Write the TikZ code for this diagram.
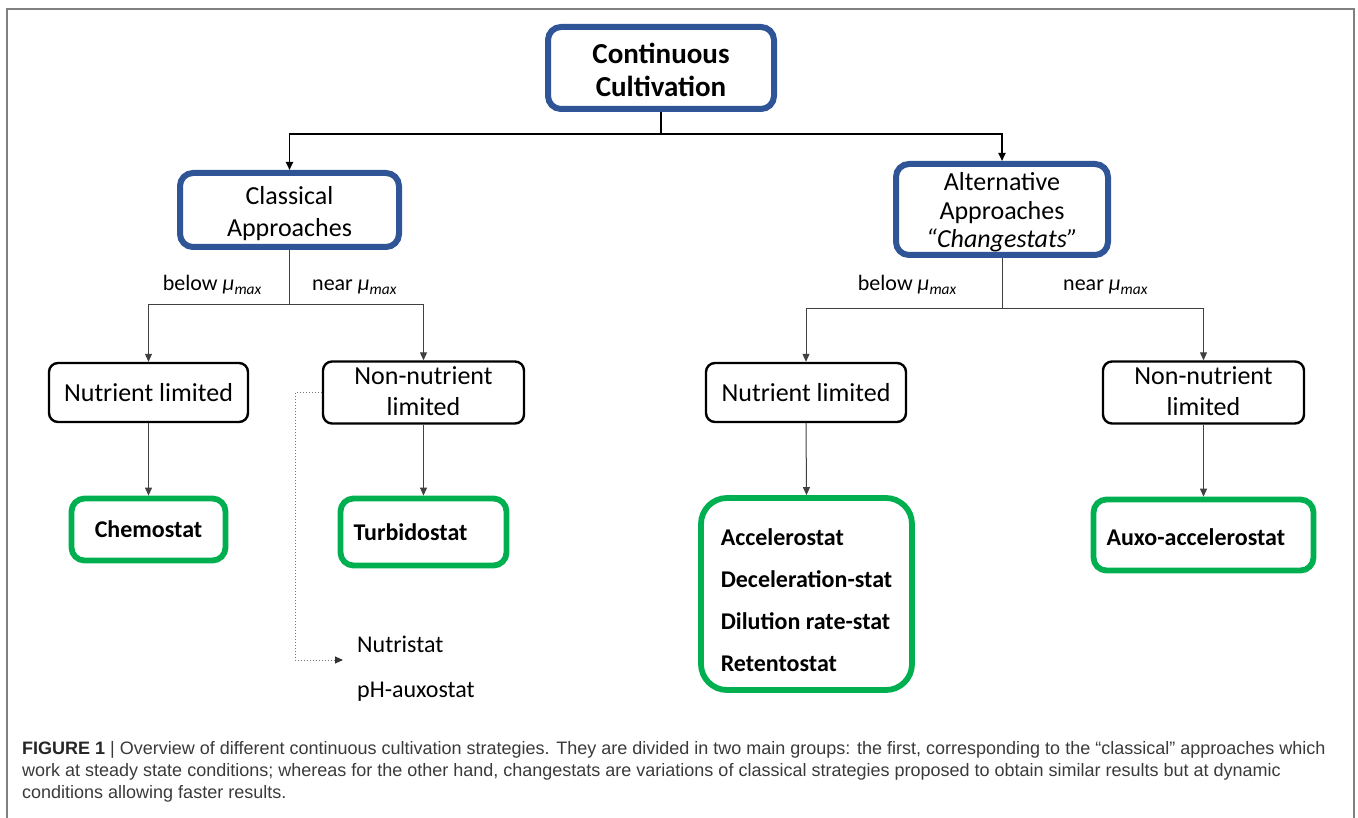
\documentclass[tikz,border=0pt]{standalone}
\usepackage{fontspec}
\setmainfont{Carlito}
\newfontfamily\capfont{Liberation Sans}
\usetikzlibrary{arrows.meta}
\definecolor{bluebox}{HTML}{2F5597}
\definecolor{greenbox}{HTML}{00B050}
\definecolor{framecol}{HTML}{808080}
\definecolor{captext}{HTML}{3A3A3A}
\tikzset{
  bluestyle/.style={draw=bluebox, line width=6pt, rounded corners=13pt, fill=white, align=center, inner sep=0pt},
  blackstyle/.style={draw=black, line width=2.4pt, rounded corners=9pt, align=center, inner sep=0pt, font=\fontsize{26}{31}\selectfont},
  greenstyle/.style={draw=greenbox, line width=5.8pt, rounded corners=13pt, inner ysep=0pt, font=\bfseries\fontsize{24}{42.3}\selectfont},
  tip/.style={-{Triangle[length=8pt,width=7pt]}},
  dottip/.style={-{Triangle[length=8pt,width=7pt,color=black!80]}},
  mainconn/.style={draw=black, line width=1.8pt},
  conn/.style={draw=black!75, line width=1pt},
  dotconn/.style={draw=black!55, line width=1pt, dotted},
  lbl/.style={inner sep=0pt, font=\fontsize{22}{26}\selectfont},
  plain/.style={inner sep=0pt, font=\fontsize{24}{28}\selectfont},
  captionline/.style={inner sep=0pt, anchor=base west, text=captext, font=\capfont\fontsize{18}{22}\selectfont},
}
\newcommand{\mumax}{{\itshape μ}\textsubscript{\itshape max}}
\newcommand{\lowered}[2]{\raisebox{#1}[\height][\depth]{#2}}
\begin{document}
\begin{tikzpicture}[x=1pt,y=-1pt]
\useasboundingbox (0,0) rectangle (1358,818);
% frame
\draw[framecol, line width=1.3pt] (7,818) -- (7,9) -- (1354,9) -- (1354,818);

% blue boxes
\node[bluestyle, minimum width=226pt, minimum height=82pt, font=\bfseries\fontsize{29}{33}\selectfont] (title) at (661,68)
  {\lowered{-5.5pt}{\begin{tabular}{@{}c@{}}Continuous\\Cultivation\end{tabular}}};
\node[bluestyle, minimum width=219pt, minimum height=74pt, font=\fontsize{26}{32.5}\selectfont] (classical) at (289.5,210)
  {\lowered{-4pt}{\begin{tabular}{@{}c@{}}Classical\\Approaches\end{tabular}}};
\node[bluestyle, minimum width=212pt, minimum height=91pt, font=\fontsize{26}{28.5}\selectfont] (alt) at (1002,209.5)
  {\lowered{-4pt}{\begin{tabular}{@{}c@{}}Alternative\\Approaches\\{\itshape “Changestats”}\end{tabular}}};

% black boxes
\node[blackstyle, minimum width=199pt, minimum height=59pt] (nl1) at (148.5,392.5) {Nutrient limited};
\node[blackstyle, minimum width=201pt, minimum height=59pt] (nnl1) at (423.5,392.5) {\lowered{-1pt}{\begin{tabular}{@{}c@{}}Non-nutrient\\limited\end{tabular}}};
\node[blackstyle, minimum width=200pt, minimum height=59pt] (nl2) at (806,392.5) {Nutrient limited};
\node[blackstyle, minimum width=201pt, minimum height=59pt] (nnl2) at (1203.5,392.5) {\lowered{-1pt}{\begin{tabular}{@{}c@{}}Non-nutrient\\limited\end{tabular}}};

% green boxes
\node[greenstyle, align=center, minimum width=154pt, minimum height=62pt] (chemo) at (148.5,529.5) {Chemostat};
\node[greenstyle, align=left, text width=140pt, inner xsep=13pt, minimum height=67pt] (turbido) at (423.5,532) {Turbidostat};
\node[greenstyle, minimum width=211pt, minimum height=192pt, rounded corners=26pt] (multi) at (806.5,594)
  {\lowered{-6pt}{\begin{tabular}{@{}l@{}}Accelerostat\\Deceleration-stat\\Dilution rate-stat\\Retentostat\end{tabular}}};
\node[greenstyle, align=left, text width=194pt, inner xsep=13pt, minimum height=71pt] (auxo) at (1203.5,535) {\lowered{-2pt}{Auxo-accelerostat}};

% labels
\node[lbl, anchor=base east] (b1) at (262,291) {below \mumax};
\node[lbl, anchor=base west] (n1) at (312,291) {near \mumax};
\node[lbl, anchor=base east] (b2) at (957,291) {below \mumax};
\node[lbl, anchor=base west] (n2) at (1063,291) {near \mumax};

\node[plain, anchor=base west] (nutri) at (357,652) {Nutristat};
\node[plain, anchor=base west] (phaux) at (357,697) {pH-auxostat};

% connectors
\coordinate (j0) at (661,134);
\draw[mainconn] (title.south) -- (j0);
\draw[mainconn, tip] (j0) -| (classical.north);
\draw[mainconn, tip] (j0) -| (alt.north);

\coordinate (j1) at (289.5,305);
\draw[conn] (classical.south) -- (j1);
\draw[conn, tip] (j1) -| (nl1.north);
\draw[conn, tip] (j1) -| (nnl1.north);

\coordinate (j2) at (1002,309);
\draw[conn] (alt.south) -- (j2);
\draw[conn, tip] (j2) -| (nl2.north);
\draw[conn, tip] (j2) -| (nnl2.north);

\draw[conn, tip] (nl1.south) -- (chemo.north);
\draw[conn, tip] (nnl1.south) -- (turbido.north);
\draw[conn, tip] (nl2.south) -- (multi.north);
\draw[conn, tip] (nnl2.south) -- (auxo.north);

\coordinate (d0) at (295,392.5);
\coordinate (d1) at (343,660);
\draw[dotconn, dottip] (nnl1.west) -- (d0) |- (d1);

% caption
\node[captionline] (cap1) at (22,754.5) {{\bfseries\color{black!85}FIGURE 1} | Overview of different continuous cultivation strategies. They are divided in two main groups: the first, corresponding to the “classical” approaches which};
\node[captionline] (cap2) at (22,776.5) {work at steady state conditions; whereas for the other hand, changestats are variations of classical strategies proposed to obtain similar results but at dynamic};
\node[captionline] (cap3) at (22,798.5) {conditions allowing faster results.};
\end{tikzpicture}
\end{document}
